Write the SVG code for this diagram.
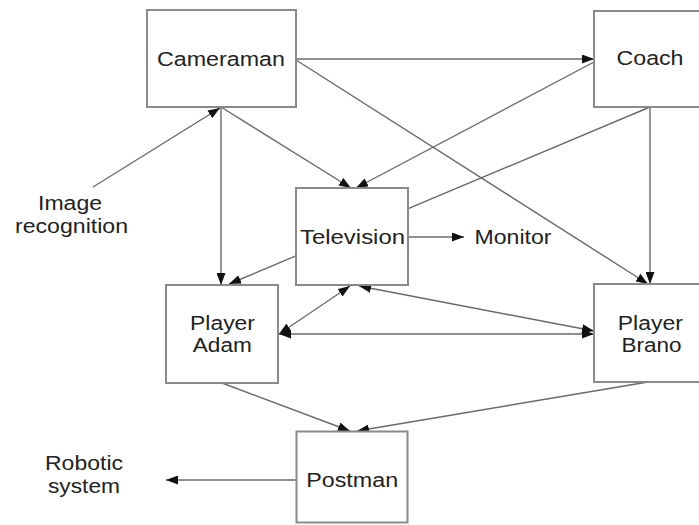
<svg xmlns="http://www.w3.org/2000/svg" width="699" height="525" viewBox="0 0 699 525">
  <style>
    .box { fill: #ffffff; stroke: #8a8a8a; stroke-width: 2; }
    .lbl { font-family: "Liberation Sans", Arial, sans-serif; font-size: 20px; fill: #222222; text-anchor: middle; }
    .edge { fill: none; stroke: #6a6a6a; stroke-width: 1.4; }
    .one { marker-end: url(#head); }
    .two { marker-start: url(#head); marker-end: url(#head); }
  </style>
  <defs>
    <marker id="head" viewBox="0 0 12 9" refX="12" refY="4.5" markerWidth="12" markerHeight="9" markerUnits="userSpaceOnUse" orient="auto-start-reverse">
      <path d="M0,0 L12,4.5 L0,9 z" fill="#111111"/>
    </marker>
  </defs>
  <rect width="699" height="525" fill="#ffffff"/>

  <g id="connectors">
    <line class="edge one" x1="93" y1="187" x2="220" y2="108"/>
    <line class="edge one" x1="296" y1="59" x2="594" y2="59"/>
    <line class="edge one" x1="221" y1="107" x2="351" y2="188"/>
    <line class="edge one" x1="221" y1="107" x2="221" y2="285"/>
    <line class="edge one" x1="296" y1="60" x2="648" y2="284"/>
    <line class="edge one" x1="594" y1="62" x2="356" y2="188"/>
    <line class="edge one" x1="650" y1="107" x2="229" y2="284"/>
    <line class="edge one" x1="650" y1="107" x2="650" y2="284"/>
    <line class="edge one" x1="408" y1="237" x2="464" y2="237"/>
    <line class="edge two" x1="279" y1="334" x2="350" y2="286"/>
    <line class="edge two" x1="359" y1="286" x2="594" y2="331"/>
    <line class="edge two" x1="279" y1="334" x2="594" y2="334"/>
    <line class="edge one" x1="222" y1="383" x2="350" y2="431"/>
    <line class="edge one" x1="648" y1="382" x2="357" y2="431"/>
    <line class="edge one" x1="296" y1="480" x2="166" y2="480"/>
  </g>

  <g id="cameraman">
    <rect class="box" x="147" y="10" width="149" height="97"/>
    <text class="lbl" x="221" y="66" textLength="128" lengthAdjust="spacingAndGlyphs">Cameraman</text>
  </g>
  <g id="coach">
    <rect class="box" x="594" y="11" width="120" height="96"/>
    <text class="lbl" x="650" y="65" textLength="67" lengthAdjust="spacingAndGlyphs">Coach</text>
  </g>
  <g id="television">
    <rect class="box" x="296" y="188" width="112" height="97"/>
    <text class="lbl" x="352.5" y="244" textLength="105" lengthAdjust="spacingAndGlyphs">Television</text>
  </g>
  <g id="monitor">
    <text class="lbl" x="513" y="244" textLength="77" lengthAdjust="spacingAndGlyphs">Monitor</text>
  </g>
  <g id="image-recognition">
    <text class="lbl" x="70" y="210" textLength="64" lengthAdjust="spacingAndGlyphs">Image</text>
    <text class="lbl" x="71.5" y="233" textLength="113" lengthAdjust="spacingAndGlyphs">recognition</text>
  </g>
  <g id="player-adam">
    <rect class="box" x="166" y="285" width="112" height="98"/>
    <text class="lbl" x="222.5" y="330" textLength="65" lengthAdjust="spacingAndGlyphs">Player</text>
    <text class="lbl" x="222.3" y="352" textLength="59" lengthAdjust="spacingAndGlyphs">Adam</text>
  </g>
  <g id="player-brano">
    <rect class="box" x="594" y="284" width="120" height="98"/>
    <text class="lbl" x="650.3" y="329.5" textLength="65" lengthAdjust="spacingAndGlyphs">Player</text>
    <text class="lbl" x="651.5" y="351.5" textLength="60" lengthAdjust="spacingAndGlyphs">Brano</text>
  </g>
  <g id="postman">
    <rect class="box" x="296.5" y="431.5" width="111" height="91"/>
    <text class="lbl" x="352.2" y="486.5" textLength="92" lengthAdjust="spacingAndGlyphs">Postman</text>
  </g>
  <g id="robotic-system">
    <text class="lbl" x="84" y="470" textLength="78" lengthAdjust="spacingAndGlyphs">Robotic</text>
    <text class="lbl" x="84" y="492.5" textLength="72" lengthAdjust="spacingAndGlyphs">system</text>
  </g>
</svg>
